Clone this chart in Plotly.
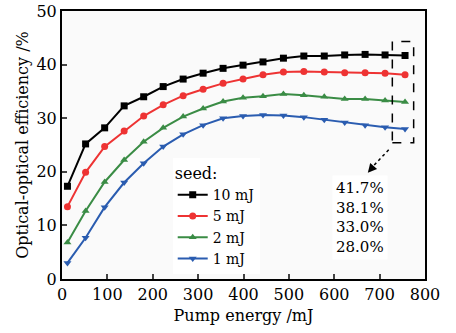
import plotly.graph_objects as go

pump = [12, 52, 94, 137, 180, 223, 267, 311, 355, 399, 443, 488, 533, 578, 623, 668, 712, 756]
eff_10mJ = [17.3, 25.2, 28.2, 32.3, 34.0, 35.9, 37.3, 38.4, 39.3, 39.9, 40.5, 41.2, 41.6, 41.6, 41.8, 41.9, 41.8, 41.7]
eff_5mJ = [13.5, 19.9, 24.7, 27.6, 30.4, 32.5, 34.2, 35.4, 36.5, 37.3, 38.1, 38.6, 38.7, 38.6, 38.5, 38.5, 38.4, 38.1]
eff_2mJ = [6.8, 12.7, 18.1, 22.2, 25.6, 28.2, 30.3, 31.8, 33.1, 33.8, 34.1, 34.5, 34.3, 34.0, 33.6, 33.6, 33.3, 33.0]
eff_1mJ = [3.0, 7.7, 13.4, 18.0, 21.6, 24.7, 27.0, 28.7, 30.0, 30.4, 30.6, 30.5, 30.2, 29.7, 29.2, 28.7, 28.3, 28.0]
series_names = ["10 mJ", "5 mJ", "2 mJ", "1 mJ"]
final_labels = ["41.7%", "38.1%", "33.0%", "28.0%"]

colors = ["#000000", "#ee3333", "#3a8c45", "#2a5cb0"]
symbols = ["square", "circle", "triangle-up", "triangle-down"]
FONT = "DejaVu Serif"

fig = go.Figure()
for name, ys, c, s in zip(series_names, [eff_10mJ, eff_5mJ, eff_2mJ, eff_1mJ], colors, symbols):
    fig.add_trace(go.Scatter(x=pump, y=ys, name=name, mode="lines+markers",
                             line=dict(color=c, width=2),
                             marker=dict(symbol=s, size=7, color=c)))

# dashed box around the final points
last_vals = [eff_10mJ[-1], eff_5mJ[-1], eff_2mJ[-1], eff_1mJ[-1]]
fig.add_shape(type="rect", xref="x", yref="y",
              x0=pump[-1] - 28, x1=pump[-1] + 19,
              y0=min(last_vals) - 2.6, y1=max(last_vals) + 2.6,
              line=dict(color="black", width=1.5, dash="dash"))
# dotted arrow
fig.add_shape(type="line", xref="x", yref="y", x0=720, y0=24.1, x1=684, y1=20.9,
              line=dict(color="black", width=1.5, dash="dot"))
fig.add_annotation(x=674, y=19.8, ax=686, ay=21.0, xref="x", yref="y", axref="x", ayref="y",
                   text="", showarrow=True, arrowhead=2, arrowsize=1.2, arrowwidth=1.5, arrowcolor="black")
fig.add_annotation(x=595, y=19.4, xref="x", yref="y", xanchor="left", yanchor="top",
                   text="<br>".join(final_labels), showarrow=False, align="left",
                   bgcolor="white", borderpad=3, font=dict(family=FONT, size=15, color="black"))

fig.update_layout(
    width=456, height=333,
    margin=dict(l=62, r=31, t=11, b=54),
    paper_bgcolor="white", plot_bgcolor="#fafafa",
    font=dict(family=FONT, size=15, color="black"),
    legend=dict(title=dict(text="seed:", font=dict(family=FONT, size=16)),
                x=0.305, y=0.45, xanchor="left", yanchor="top",
                bgcolor="white", font=dict(family=FONT, size=14),
                tracegroupgap=0, itemwidth=30),
    xaxis=dict(range=[0, 800], dtick=100, ticks="inside", ticklen=5, tickwidth=1.5,
               showline=True, linecolor="black", linewidth=2, mirror=True,
               showgrid=False, zeroline=False, automargin=False,
               title=dict(text="Pump energy /mJ", standoff=7, font=dict(size=16)),
               tickfont=dict(size=16)),
    yaxis=dict(range=[0, 50], dtick=10, ticks="inside", ticklen=5, tickwidth=1.5,
               showline=True, linecolor="black", linewidth=2, mirror=True,
               showgrid=False, zeroline=False, automargin=False,
               title=dict(text="Optical-optical efficiency /%", standoff=4, font=dict(size=16)),
               tickfont=dict(size=16)),
    showlegend=True,
)

fig.write_html("out.html")
